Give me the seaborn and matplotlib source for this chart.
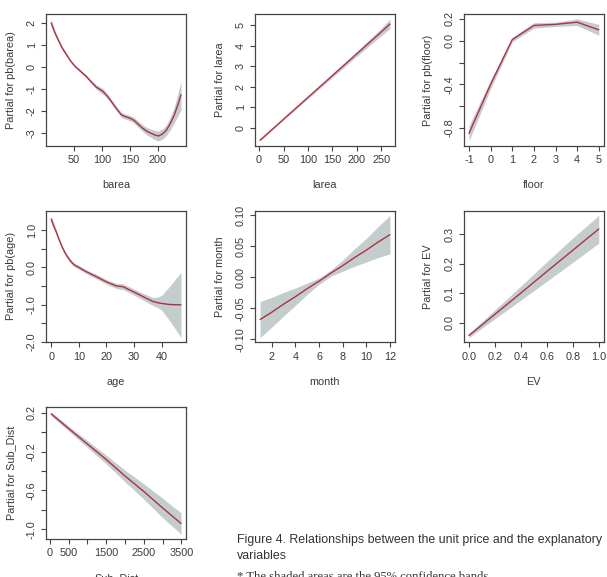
"""Partial dependence plots (GAM style) for the unit price model."""
import matplotlib
matplotlib.use("Agg")
import matplotlib.pyplot as plt
import numpy as np
import seaborn as sns

# --- data ------------------------------------------------------------------
barea_x = [10, 16, 22, 29, 37, 44, 52, 62, 72, 81, 90, 96, 102, 110, 117, 126, 135, 141, 146, 152, 158, 165, 173, 180, 188, 195, 201, 208, 215, 222, 229, 235, 241]
barea_fit = [2.0, 1.58, 1.25, 0.88, 0.56, 0.28, 0.03, -0.20, -0.43, -0.68, -0.92, -1.02, -1.12, -1.34, -1.58, -1.90, -2.19, -2.26, -2.30, -2.36, -2.45, -2.62, -2.80, -2.93, -3.03, -3.11, -3.15, -3.06, -2.88, -2.58, -2.19, -1.76, -1.27]
barea_lo = [1.85, 1.47, 1.16, 0.80, 0.49, 0.22, -0.03, -0.26, -0.50, -0.76, -1.02, -1.14, -1.25, -1.45, -1.68, -2.00, -2.30, -2.38, -2.42, -2.48, -2.58, -2.76, -2.95, -3.10, -3.22, -3.32, -3.38, -3.29, -3.12, -2.87, -2.55, -2.25, -1.95]
barea_hi = [2.18, 1.70, 1.34, 0.96, 0.63, 0.34, 0.09, -0.14, -0.36, -0.60, -0.82, -0.90, -0.99, -1.23, -1.48, -1.80, -2.08, -2.14, -2.18, -2.24, -2.32, -2.48, -2.65, -2.76, -2.84, -2.90, -2.92, -2.83, -2.64, -2.29, -1.83, -1.27, -0.66]

larea_x = [2, 50, 100, 150, 200, 250, 268]
larea_fit = [-0.60, 0.42, 1.48, 2.54, 3.60, 4.66, 5.05]
larea_lo = [-0.64, 0.38, 1.42, 2.45, 3.48, 4.48, 4.82]
larea_hi = [-0.56, 0.46, 1.54, 2.63, 3.72, 4.84, 5.30]

floor_x = [-1, 0, 1, 2, 3, 4, 5]
floor_fit = [-0.85, -0.40, 0.01, 0.14, 0.15, 0.17, 0.10]
floor_lo = [-0.92, -0.44, -0.01, 0.115, 0.13, 0.14, 0.05]
floor_hi = [-0.78, -0.36, 0.03, 0.165, 0.17, 0.20, 0.15]

age_x = [0, 0.9, 1.8, 3.0, 4.2, 5.4, 6.7, 7.6, 8.5, 10, 12.8, 16.4, 20, 23.6, 26, 29.6, 33.3, 36.9, 38.5, 40, 43, 47]
age_fit = [1.30, 1.12, 0.96, 0.72, 0.51, 0.34, 0.20, 0.12, 0.06, 0.0, -0.12, -0.25, -0.39, -0.50, -0.52, -0.65, -0.79, -0.92, -0.95, -0.97, -1.00, -1.01]
age_lo = [1.20, 1.04, 0.90, 0.67, 0.46, 0.29, 0.15, 0.07, 0.01, -0.05, -0.17, -0.31, -0.45, -0.57, -0.60, -0.73, -0.88, -1.03, -1.08, -1.15, -1.45, -1.89]
age_hi = [1.40, 1.20, 1.02, 0.77, 0.56, 0.39, 0.25, 0.17, 0.11, 0.05, -0.07, -0.19, -0.33, -0.43, -0.44, -0.57, -0.70, -0.81, -0.80, -0.75, -0.50, -0.13]

month_x = [1, 2, 3, 4, 5, 6, 7, 8, 9, 10, 11, 12]
month_fit = [-0.068, -0.056, -0.043, -0.031, -0.018, -0.006, 0.007, 0.019, 0.032, 0.044, 0.057, 0.069]
month_lo = [-0.097, -0.080, -0.062, -0.045, -0.027, -0.011, 0.002, 0.010, 0.018, 0.025, 0.032, 0.038]
month_hi = [-0.039, -0.032, -0.024, -0.017, -0.009, -0.001, 0.012, 0.028, 0.046, 0.063, 0.082, 0.100]

ev_x = [0.0, 0.2, 0.4, 0.6, 0.8, 1.0]
ev_fit = [-0.043, 0.029, 0.101, 0.174, 0.246, 0.318]
ev_lo = [-0.050, 0.014, 0.077, 0.141, 0.205, 0.270]
ev_hi = [-0.036, 0.044, 0.125, 0.207, 0.288, 0.364]

sub_x = [40, 500, 1000, 1500, 2000, 2500, 3000, 3490]
sub_fit = [0.19, 0.04, -0.12, -0.28, -0.45, -0.61, -0.78, -0.94]
sub_lo = [0.17, 0.015, -0.155, -0.325, -0.51, -0.69, -0.88, -1.05]
sub_hi = [0.21, 0.065, -0.085, -0.235, -0.39, -0.53, -0.68, -0.83]

panels = [
    ("barea", "Partial for pb(barea)", barea_x, barea_fit, barea_lo, barea_hi,
     [50, 100, 150, 200], ["50", "100", "150", "200"],
     [-3, -2, -1, 0, 1, 2], ["-3", "-2", "-1", "0", "1", "2"]),
    ("larea", "Partial for larea", larea_x, larea_fit, larea_lo, larea_hi,
     [0, 50, 100, 150, 200, 250], ["0", "50", "100", "150", "200", "250"],
     [0, 1, 2, 3, 4, 5], ["0", "1", "2", "3", "4", "5"]),
    ("floor", "Partial for pb(floor)", floor_x, floor_fit, floor_lo, floor_hi,
     [-1, 0, 1, 2, 3, 4, 5], ["-1", "0", "1", "2", "3", "4", "5"],
     [-0.8, -0.6, -0.4, -0.2, 0.0, 0.2], ["-0.8", "", "-0.4", "", "0.0", "0.2"]),
    ("age", "Partial for pb(age)", age_x, age_fit, age_lo, age_hi,
     [0, 10, 20, 30, 40], ["0", "10", "20", "30", "40"],
     [-2.0, -1.5, -1.0, -0.5, 0.0, 0.5, 1.0], ["-2.0", "", "-1.0", "", "0.0", "", "1.0"]),
    ("month", "Partial for month", month_x, month_fit, month_lo, month_hi,
     [2, 4, 6, 8, 10, 12], ["2", "4", "6", "8", "10", "12"],
     [-0.10, -0.05, 0.0, 0.05, 0.10], ["-0.10", "-0.05", "0.00", "0.05", "0.10"]),
    ("EV", "Partial for EV", ev_x, ev_fit, ev_lo, ev_hi,
     [0.0, 0.2, 0.4, 0.6, 0.8, 1.0], ["0.0", "0.2", "0.4", "0.6", "0.8", "1.0"],
     [0.0, 0.1, 0.2, 0.3], ["0.0", "0.1", "0.2", "0.3"]),
    ("Sub_Dist", "Partial for Sub_Dist", sub_x, sub_fit, sub_lo, sub_hi,
     [0, 500, 1000, 1500, 2000, 2500, 3000, 3500], ["0", "500", "", "1500", "", "2500", "", "3500"],
     [-1.0, -0.8, -0.6, -0.4, -0.2, 0.0, 0.2], ["-1.0", "", "-0.6", "", "-0.2", "", "0.2"]),
]

LINE_COLOR = "#b0303f"
BAND_COLOR = "#c4cdcd"
TEXT_COLOR = "#3a3a3a"

sns.set_theme(style="ticks")
plt.rcParams["font.family"] = ["Liberation Sans", "DejaVu Sans"]

fig, axes = plt.subplots(3, 3, figsize=(6.07, 5.77), dpi=100)
fig.subplots_adjust(left=0.0758, right=0.995, top=0.9757, bottom=0.0659,
                    wspace=0.49, hspace=0.49)

for ax, (xlab, ylab, x, fit, lo, hi, xt, xtl, yt, ytl) in zip(axes.flat, panels):
    ax.fill_between(x, lo, hi, color=BAND_COLOR, linewidth=0)
    sns.lineplot(x=x, y=fit, ax=ax, color=LINE_COLOR, linewidth=1.0)
    ax.margins(x=0.04, y=0.04)
    ax.set_xticks(xt)
    ax.set_xticklabels(xtl)
    ax.set_yticks(yt)
    ax.set_yticklabels(ytl, rotation=90, va="center")
    ax.tick_params(direction="out", length=3.6, width=0.8, color="#444444",
                   labelsize=7.8, labelcolor=TEXT_COLOR, pad=3)
    ax.set_xlabel(xlab, fontsize=7.8, color=TEXT_COLOR, labelpad=11)
    ax.set_ylabel(ylab, fontsize=7.8, color=TEXT_COLOR, labelpad=8)
    for s in ax.spines.values():
        s.set_visible(True)
        s.set_color("#444444")
        s.set_linewidth(0.9)

axes[2, 1].axis("off")
axes[2, 2].axis("off")

fig.text(237 / 607, 1 - 540 / 577, "Figure 4. Relationships between the unit price and the explanatory",
         fontsize=8.9, color="#333333", va="center", ha="left")
fig.text(237 / 607, 1 - 556 / 577, "variables",
         fontsize=8.9, color="#333333", va="center", ha="left")
fig.text(237 / 607, 1 - 577 / 577, "* The shaded areas are the 95% confidence bands",
         fontsize=9.1, color="#333333", va="center", ha="left", family="Liberation Serif")

fig.savefig("out.png", dpi=100)
